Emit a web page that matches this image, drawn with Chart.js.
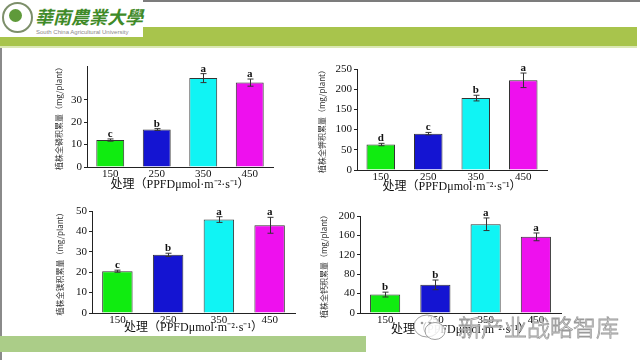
<!DOCTYPE html>
<html><head><meta charset="utf-8">
<script src="https://cdn.jsdelivr.net/npm/chart.js@4/dist/chart.umd.min.js"></script>
<style>
html,body{margin:0;padding:0;background:#fff;width:640px;height:360px;overflow:hidden;position:relative}
.abs{position:absolute}
canvas{position:absolute}
</style></head><body>
<!-- header -->
<div class="abs" style="left:143px;top:0;width:497px;height:2px;background:#7c7c7c"></div>
<div class="abs" style="left:143px;top:27px;width:494px;height:19px;background:#a8c44c"></div>
<div class="abs" style="left:0;top:37px;width:143px;height:9px;background:#a8c44c"></div>
<div class="abs" style="left:0;top:46px;width:637px;height:2px;background:#dbe8b4"></div>
<div class="abs" style="left:2px;top:2px;width:27px;height:27px;border:2px solid #7d8f6a;border-radius:50%;background:#fff"></div>
<div class="abs" style="left:9px;top:9px;width:13px;height:13px;border-radius:50%;background:#5f9a3a"></div>
<div class="abs" style="left:35px;top:3px;font:700 18px 'Noto Sans CJK TC';color:#3f8a28;letter-spacing:0px;white-space:nowrap;font-style:italic">華南農業大學</div>
<div class="abs" style="left:36px;top:29px;font:6px 'Liberation Sans';color:#8a8a8a;white-space:nowrap">South China Agricultural University</div>
<!-- left border + bottom band -->
<div class="abs" style="left:0;top:48px;width:2px;height:288px;background:#8a8a8a"></div>
<div class="abs" style="left:0;top:352px;width:2px;height:8px;background:#8a8a8a"></div>
<div class="abs" style="left:0;top:336px;width:366px;height:16px;background:#abcd88"></div>

<canvas id="c1" width="240" height="140" style="left:45px;top:55px"></canvas>
<canvas id="c2" width="260" height="145" style="left:300px;top:55px"></canvas>
<canvas id="c3" width="262" height="140" style="left:45px;top:200px"></canvas>
<canvas id="c4" width="260" height="140" style="left:310px;top:200px"></canvas>

<!-- watermark -->
<svg class="abs" style="left:412px;top:312px;z-index:5" width="36" height="32" viewBox="0 0 36 32">
  <ellipse cx="15" cy="14" rx="13" ry="11" fill="rgba(255,255,255,0.75)" stroke="#a0a0a0" stroke-width="1"/>
  <ellipse cx="23" cy="19" rx="10" ry="8.5" fill="rgba(255,255,255,0.75)" stroke="#a0a0a0" stroke-width="1"/>
  <circle cx="10" cy="11" r="1.3" fill="#999"/><circle cx="18" cy="11" r="1.3" fill="#999"/>
</svg>
<div class="abs" style="left:458px;top:309px;font:300 23px 'Noto Sans CJK SC';color:rgba(255,255,255,0.8);-webkit-text-stroke:0.8px #9a9a9a;white-space:nowrap;z-index:5">新产业战略智库</div>

<script>
const categories = ['150', '250', '350', '450'];
const xTitle = '处理（PPFDμmol·m⁻²·s⁻¹）';

const pValues = [12, 16.7, 39.6, 37.6];
const pErrors = [0.5, 0.4, 2, 1.6];
const pLetters = ['c', 'b', 'a', 'a'];

const kValues = [63, 90, 178, 222];
const kErrors = [3, 3, 7, 18];
const kLetters = ['d', 'c', 'b', 'a'];

const caValues = [20.5, 28.5, 45.8, 43];
const caErrors = [0.5, 0.8, 1.4, 3.9];
const caLetters = ['c', 'b', 'a', 'a'];

const mgValues = [38, 58, 183, 157];
const mgErrors = [5, 10, 13, 8];
const mgLetters = ['b', 'b', 'a', 'a'];

const barColors = ['#10ec10', '#1414d2', '#10f4f4', '#ee10ee'];

const errLetters = {
  id: 'errLetters',
  afterDatasetsDraw(chart, args, opts) {
    const ctx = chart.ctx;
    const meta = chart.getDatasetMeta(0);
    const y = chart.scales.y;
    ctx.save();
    meta.data.forEach((bar, i) => {
      const v = opts.values[i], e = opts.errors[i];
      const yt = y.getPixelForValue(v + e), yb = y.getPixelForValue(v - e);
      const x = Math.round(bar.x) + 0.5;
      ctx.strokeStyle = '#333';
      ctx.lineWidth = 1;
      ctx.beginPath();
      ctx.moveTo(x, yt); ctx.lineTo(x, yb);
      ctx.moveTo(x - 3, yt); ctx.lineTo(x + 3, yt);
      ctx.moveTo(x - 3, yb); ctx.lineTo(x + 3, yb);
      ctx.stroke();
      ctx.fillStyle = '#111';
      ctx.font = 'bold 11px "Liberation Serif"';
      ctx.textAlign = 'center';
      ctx.textBaseline = 'alphabetic';
      ctx.fillText(opts.letters[i], bar.x, yt - 2);
    });
    ctx.restore();
  }
};

function makeChart(id, values, errors, letters, max, step, yTitle, g) {
  new Chart(document.getElementById(id), {
    type: 'bar',
    data: {
      labels: categories,
      datasets: [{
        data: values,
        backgroundColor: barColors,
        borderColor: '#333',
        borderWidth: 1,
        barPercentage: 0.6,
        categoryPercentage: 1.0
      }]
    },
    options: {
      responsive: false,
      animation: false,
      devicePixelRatio: 1,
      layout: { padding: { top: g.top, right: g.right, left: 0, bottom: 0 } },
      plugins: {
        legend: { display: false },
        tooltip: { enabled: false },
        errLetters: { values: values, errors: errors, letters: letters }
      },
      scales: {
        x: {
          afterFit: s => { s.height = g.xh; },
          grid: { display: true, drawOnChartArea: false, drawTicks: false, offset: true, color: '#222' },
          border: { display: true, color: '#222', width: 1 },
          ticks: { color: '#111', padding: 1, font: { family: 'Liberation Serif', size: 11 } },
          title: { display: true, text: xTitle, color: '#111', padding: { top: 0, bottom: g.xtp },
                   font: { family: "'Liberation Serif','Noto Sans CJK SC'", size: 12 } }
        },
        y: {
          min: 0, max: max,
          afterFit: s => { s.width = g.yw; },
          afterBuildTicks: s => { s.ticks = s.ticks.filter(t => Math.abs(t.value / step - Math.round(t.value / step)) < 1e-6); },
          grid: { display: true, drawOnChartArea: false, drawTicks: true, tickLength: 3, color: '#222' },
          border: { display: true, color: '#222', width: 1 },
          ticks: { stepSize: step, color: '#111', padding: 2, font: { family: 'Liberation Serif', size: 11 } },
          title: { display: true, text: yTitle, color: '#333', padding: { top: g.ytp, bottom: 0 },
                   font: { family: "'Noto Sans CJK SC'", size: 8 } }
        }
      }
    },
    plugins: [errLetters]
  });
}

makeChart('c1', pValues, pErrors, pLetters, 45, 10, '植株全磷积累量（mg/plant）',
  { top: 11, right: 12, xh: 28, yw: 42, ytp: 9, xtp: 2.8 });
makeChart('c2', kValues, kErrors, kLetters, 250, 50, '植株全钾积累量（mg/plant）',
  { top: 14, right: 13, xh: 30, yw: 57, ytp: 17, xtp: 5.5 });
makeChart('c3', caValues, caErrors, caLetters, 50, 10, '植株全镁积累量（mg/plant）',
  { top: 11, right: 12, xh: 27, yw: 47, ytp: 10, xtp: 4.8 });
makeChart('c4', mgValues, mgErrors, mgLetters, 200, 40, '植株全钙积累量（mg/plant）',
  { top: 16, right: 9, xh: 27, yw: 50, ytp: 9, xtp: 2.8 });
</script>
</body></html>
